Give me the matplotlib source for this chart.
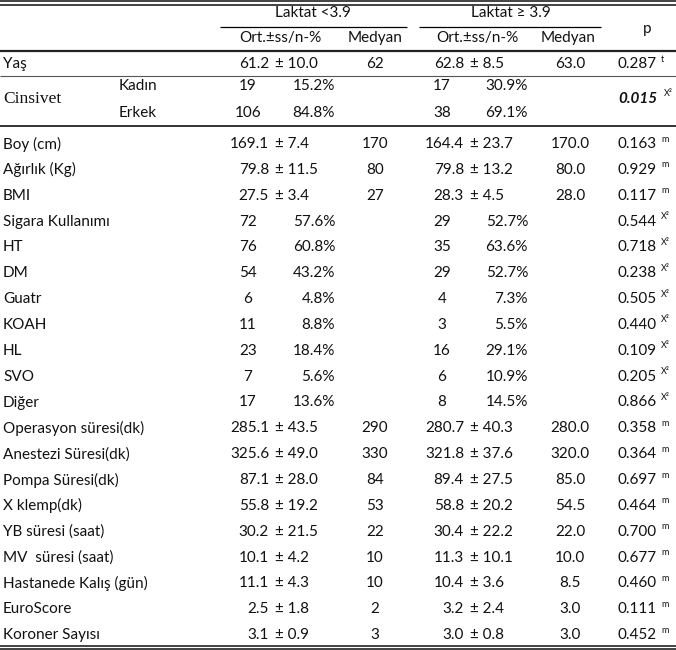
import matplotlib.pyplot as plt

plt.rcParams['font.family'] = ['Lato', 'DejaVu Sans']

# rows after the sex block (Yaş first, then the rest)
row_labels = ["Yaş", "Boy (cm)", "Ağırlık (Kg)", "BMI", "Sigara Kullanımı", "HT", "DM",
              "Guatr", "KOAH", "HL", "SVO", "Diğer", "Operasyon süresi(dk)",
              "Anestezi Süresi(dk)", "Pompa Süresi(dk)", "X klemp(dk)", "YB süresi (saat)",
              "MV  süresi (saat)", "Hastanede Kalış (gün)", "EuroScore", "Koroner Sayısı"]
low_a = ["61.2", "169.1", "79.8", "27.5", "72", "76", "54", "6", "11", "23", "7", "17",
         "285.1", "325.6", "87.1", "55.8", "30.2", "10.1", "11.1", "2.5", "3.1"]
low_b = ["10.0", "7.4", "11.5", "3.4", "57.6%", "60.8%", "43.2%", "4.8%", "8.8%", "18.4%",
         "5.6%", "13.6%", "43.5", "49.0", "28.0", "19.2", "21.5", "4.2", "4.3", "1.8", "0.9"]
low_med = ["62", "170", "80", "27", "", "", "", "", "", "", "", "",
           "290", "330", "84", "53", "22", "10", "10", "2", "3"]
high_a = ["62.8", "164.4", "79.8", "28.3", "29", "35", "29", "4", "3", "16", "6", "8",
          "280.7", "321.8", "89.4", "58.8", "30.4", "11.3", "10.4", "3.2", "3.0"]
high_b = ["8.5", "23.7", "13.2", "4.5", "52.7%", "63.6%", "52.7%", "7.3%", "5.5%", "29.1%",
          "10.9%", "14.5%", "40.3", "37.6", "27.5", "20.2", "22.2", "10.1", "3.6", "2.4", "0.8"]
high_med = ["63.0", "170.0", "80.0", "28.0", "", "", "", "", "", "", "", "",
            "280.0", "320.0", "85.0", "54.5", "22.0", "10.0", "8.5", "3.0", "3.0"]
p_vals = ["0.287", "0.163", "0.929", "0.117", "0.544", "0.718", "0.238", "0.505", "0.440",
          "0.109", "0.205", "0.866", "0.358", "0.364", "0.697", "0.464", "0.700", "0.677",
          "0.460", "0.111", "0.452"]
p_tests = ["t", "m", "m", "m", "X²", "X²", "X²", "X²", "X²", "X²", "X²", "X²",
           "m", "m", "m", "m", "m", "m", "m", "m", "m"]

sex_labels = ["Kadın", "Erkek"]
sex_low_n = ["19", "106"]
sex_low_pct = ["15.2%", "84.8%"]
sex_high_n = ["17", "38"]
sex_high_pct = ["30.9%", "69.1%"]
sex_p = "0.015"
sex_test = "X²"

group_names = ["Laktat <3.9", "Laktat ≥ 3.9"]
sub_names = ["Ort.±ss/n-%", "Medyan"]

W, H = 676, 650
fig = plt.figure(figsize=(W / 100, H / 100), dpi=100)
ax = fig.add_axes([0, 0, 1, 1])
ax.set_xlim(0, W)
ax.set_ylim(H, 0)
ax.axis('off')

fs = 11
col = '#111111'


def hline(y, x0=0, x1=W, lw=1.0, c='#222222'):
    ax.plot([x0, x1], [y, y], color=c, lw=lw, solid_capstyle='butt')


def put(x, y, s, ha='left', **kw):
    kw.setdefault('fontsize', fs)
    kw.setdefault('color', col)
    ax.text(x, y, s, ha=ha, va='center', **kw)


# rules
hline(1.2, lw=1.2)
hline(5, lw=1.2)
hline(27, 220, 407, lw=0.9, c='#000000')
hline(27, 419, 601, lw=0.9, c='#000000')
hline(51, lw=1.6)
hline(76, lw=0.8, c='#555555')
hline(126, lw=1.4, c='#333333')
hline(646, lw=1.2)
hline(649, lw=1.2)

# header
put(313, 13, group_names[0], ha='center')
put(511, 13, group_names[1], ha='center')
put(280, 38, sub_names[0], ha='center')
put(375, 38, sub_names[1], ha='center')
put(477, 38, sub_names[0], ha='center')
put(568, 38, sub_names[1], ha='center')
put(647, 29, "p", ha='center')

# x anchors
x_lab = 3
x_la, x_lb, x_lm = 269, 275, 375
x_ha, x_hb, x_hm = 464, 470, 570
x_cnt_l, x_pct_l = 248, 335
x_cnt_h, x_pct_h = 442, 528
x_p, x_sup = 618, 661

# row positions
row_y = [64] + [144 + 25.85 * i for i in range(len(row_labels) - 1)]

for i, lab in enumerate(row_labels):
    y = row_y[i]
    put(x_lab, y, lab)
    if low_med[i]:
        put(x_la, y, low_a[i], ha='right')
        put(x_lb, y, "± " + low_b[i])
        put(x_lm, y, low_med[i], ha='center')
        put(x_ha, y, high_a[i], ha='right')
        put(x_hb, y, "± " + high_b[i])
        put(x_hm, y, high_med[i], ha='center')
    else:
        put(x_cnt_l, y, low_a[i], ha='center')
        put(x_pct_l, y, low_b[i], ha='right')
        put(x_cnt_h, y, high_a[i], ha='center')
        put(x_pct_h, y, high_b[i], ha='right')
    put(x_p, y, p_vals[i])
    put(x_sup, y - 5, p_tests[i], fontsize=6.5)

# sex block
sex_y = [86, 113]
put(x_lab, 99, "Cinsivet", family=['Liberation Serif'], fontsize=12.5)
for j, lab in enumerate(sex_labels):
    y = sex_y[j]
    put(119, y, lab)
    put(x_cnt_l, y, sex_low_n[j], ha='center')
    put(x_pct_l, y, sex_low_pct[j], ha='right')
    put(x_cnt_h, y, sex_high_n[j], ha='center')
    put(x_pct_h, y, sex_high_pct[j], ha='right')
put(x_p, 99, sex_p, fontweight='bold', style='italic')
put(x_sup + 3, 94, sex_test, fontsize=6.5)

fig.savefig("out.png", dpi=100)
